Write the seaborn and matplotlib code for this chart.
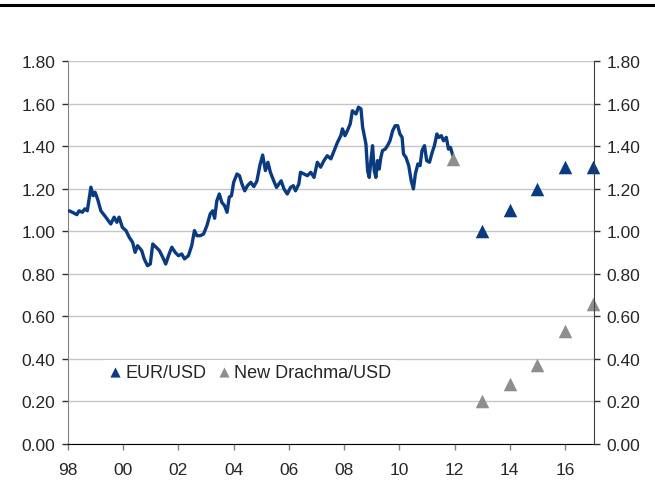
import numpy as np
import pandas as pd
import matplotlib.pyplot as plt
from matplotlib.lines import Line2D
from matplotlib.ticker import FormatStrFormatter
import seaborn as sns

# EUR/USD history (decimal year, rate)
eur_years = [1998.04, 1998.16, 1998.32, 1998.40, 1998.52, 1998.61, 1998.70, 1998.83,
             1998.91, 1998.98, 1999.07, 1999.19, 1999.37, 1999.55, 1999.67, 1999.77,
             1999.85, 1999.97, 2000.10, 2000.22, 2000.34, 2000.43, 2000.52, 2000.67,
             2000.76, 2000.88, 2000.98, 2001.07, 2001.19, 2001.31, 2001.43, 2001.54,
             2001.64, 2001.76, 2001.88, 2002.00, 2002.12, 2002.22, 2002.36, 2002.48,
             2002.58, 2002.67, 2002.79, 2002.91, 2003.03, 2003.15, 2003.24, 2003.31,
             2003.39, 2003.48, 2003.57, 2003.67, 2003.76, 2003.84, 2003.92, 2004.00,
             2004.12, 2004.21, 2004.30, 2004.40, 2004.50, 2004.62, 2004.73, 2004.84,
             2004.95, 2005.05, 2005.15, 2005.24, 2005.33, 2005.45, 2005.55, 2005.64,
             2005.72, 2005.82, 2005.94, 2006.06, 2006.16, 2006.24, 2006.36, 2006.42,
             2006.55, 2006.67, 2006.79, 2006.91, 2007.03, 2007.15, 2007.27, 2007.39,
             2007.52, 2007.64, 2007.76, 2007.88, 2007.94, 2008.03, 2008.12, 2008.22,
             2008.30, 2008.43, 2008.52, 2008.61, 2008.67, 2008.73, 2008.79, 2008.85,
             2008.91, 2008.97, 2009.03, 2009.09, 2009.15, 2009.21, 2009.27, 2009.33,
             2009.39, 2009.49, 2009.57, 2009.66, 2009.76, 2009.85, 2009.94, 2010.02,
             2010.10, 2010.15, 2010.24, 2010.34, 2010.43, 2010.51, 2010.58, 2010.67,
             2010.75, 2010.82, 2010.91, 2010.99, 2011.09, 2011.19, 2011.27, 2011.36,
             2011.43, 2011.52, 2011.60, 2011.70, 2011.78, 2011.85, 2011.94]
eur_values = [1.096, 1.089, 1.078, 1.096, 1.089, 1.105, 1.096, 1.207,
              1.167, 1.183, 1.152, 1.096, 1.066, 1.034, 1.066, 1.042,
              1.066, 1.018, 1.003, 0.971, 0.948, 0.901, 0.932, 0.909,
              0.870, 0.838, 0.846, 0.940, 0.925, 0.909, 0.878, 0.846,
              0.885, 0.925, 0.901, 0.885, 0.893, 0.870, 0.885, 0.932,
              1.003, 0.979, 0.979, 0.987, 1.026, 1.081, 1.096, 1.061,
              1.143, 1.175, 1.136, 1.120, 1.089, 1.160, 1.167, 1.230,
              1.269, 1.261, 1.222, 1.190, 1.214, 1.230, 1.210, 1.235,
              1.310, 1.358, 1.285, 1.324, 1.277, 1.237, 1.206, 1.222,
              1.237, 1.199, 1.175, 1.206, 1.214, 1.190, 1.222, 1.277,
              1.269, 1.261, 1.277, 1.253, 1.324, 1.301, 1.332, 1.355,
              1.340, 1.379, 1.418, 1.449, 1.481, 1.449, 1.473, 1.504,
              1.566, 1.551, 1.583, 1.575, 1.489, 1.449, 1.410, 1.285,
              1.253, 1.332, 1.402, 1.285, 1.253, 1.332, 1.292, 1.347,
              1.379, 1.386, 1.402, 1.425, 1.473, 1.496, 1.496, 1.457,
              1.441, 1.363, 1.347, 1.308, 1.237, 1.199, 1.269, 1.316,
              1.308, 1.379, 1.402, 1.332, 1.324, 1.371, 1.402, 1.457,
              1.441, 1.449, 1.425, 1.441, 1.386, 1.394, 1.355]

# forecasts
eur_fc_years = [2013, 2014, 2015, 2016, 2017]
eur_fc_values = [1.00, 1.10, 1.20, 1.30, 1.30]
drachma_years = [2011.94, 2013, 2014, 2015, 2016, 2017]
drachma_values = [1.34, 0.20, 0.28, 0.37, 0.53, 0.66]

x_ticks = [1998, 2000, 2002, 2004, 2006, 2008, 2010, 2012, 2014, 2016]
x_labels = ['98', '00', '02', '04', '06', '08', '10', '12', '14', '16']
y_ticks = [0.0, 0.2, 0.4, 0.6, 0.8, 1.0, 1.2, 1.4, 1.6, 1.8]

navy = '#0a3a80'
grey = '#8e8e8e'

sns.set_style('white')
plt.rcParams['font.family'] = ['Liberation Sans', 'DejaVu Sans']

fig = plt.figure(figsize=(6.55, 5.02), dpi=100)
ax = fig.add_axes([0.1038, 0.1135, 0.8031, 0.763])

hist = pd.DataFrame({'year': eur_years, 'rate': eur_values})
sns.lineplot(data=hist, x='year', y='rate', sort=False, color=navy, lw=2.4, ax=ax, zorder=3)
sns.scatterplot(x=eur_fc_years, y=eur_fc_values, marker='^', s=95, color=navy,
                linewidth=0, label='EUR/USD', ax=ax, clip_on=False, zorder=5)
sns.scatterplot(x=drachma_years, y=drachma_values, marker='^', s=95, color=grey,
                linewidth=0, label='New Drachma/USD', ax=ax, clip_on=False, zorder=5)

ax.set_xlim(1998, 2017.05)
ax.set_ylim(0, 1.8)
ax.set_xticks(x_ticks)
ax.set_xticklabels(x_labels)
ax.set_yticks(y_ticks)
ax.yaxis.set_major_formatter(FormatStrFormatter('%.2f'))
ax.set_xlabel('')
ax.set_ylabel('')
ax.yaxis.grid(True, color='#c6c6c6', lw=1)
ax.set_axisbelow(True)

for side in ['top', 'right']:
    ax.spines[side].set_visible(False)
ax.spines['left'].set_color('#808080')
ax.spines['bottom'].set_color('black')
ax.tick_params(axis='y', left=True, direction='out', length=4, width=1,
               color='#303030', labelsize=12.5, pad=5)
ax.tick_params(axis='x', bottom=True, direction='out', length=4, width=1,
               color='#808080', labelsize=12.5, pad=9)

ax2 = ax.twinx()
ax2.set_ylim(0, 1.8)
ax2.set_yticks(y_ticks)
ax2.yaxis.set_major_formatter(FormatStrFormatter('%.2f'))
for side in ['top', 'left', 'bottom']:
    ax2.spines[side].set_visible(False)
ax2.spines['right'].set_color('#404040')
ax2.tick_params(axis='y', right=True, direction='out', length=4, width=1,
                color='#303030', labelsize=12.5, pad=5)
ax2.grid(False)

leg = ax.legend(loc='center left', bbox_to_anchor=(0.052, 0.188), ncol=2,
                frameon=True, facecolor='white', edgecolor='none', framealpha=1,
                fancybox=False, handlelength=0.8, handletextpad=0.15,
                columnspacing=0.6, markerscale=0.75, fontsize=13, borderpad=0.2)

fig.add_artist(Line2D([0, 1], [0.989, 0.989], transform=fig.transFigure,
                      color='black', lw=2.2))

plt.savefig('out.png', dpi=100)
